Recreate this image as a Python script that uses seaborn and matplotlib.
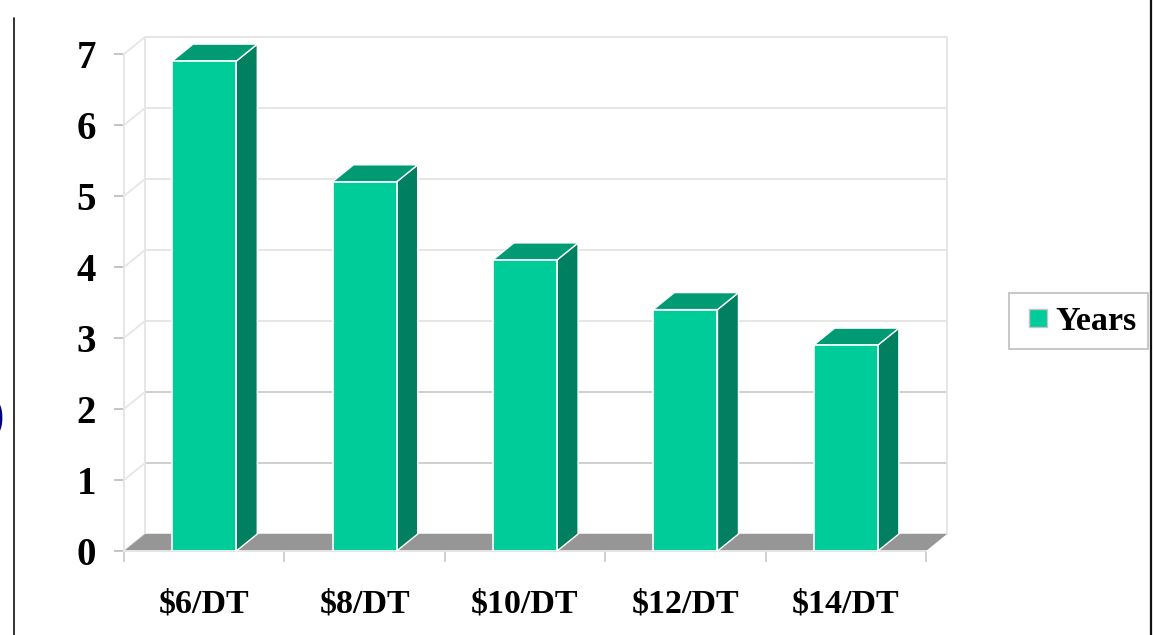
import numpy as np
import pandas as pd
import seaborn as sns
import matplotlib.pyplot as plt
from matplotlib.patches import Polygon

prices = ["$6/DT", "$8/DT", "$10/DT", "$12/DT", "$14/DT"]
years = [6.9, 5.2, 4.1, 3.4, 2.9]
series_name = "Years"

W, H = 1154, 635
FRONT = "#00cc99"
SIDE = "#008060"
TOP = "#009a75"
FLOOR = "#969696"
GRID = "#e6e6e6"

sns.set_theme(style="white")
plt.rcParams["font.family"] = ["Liberation Serif", "DejaVu Serif"]
plt.rcParams["font.weight"] = "bold"

fig = plt.figure(figsize=(W / 100, H / 100), dpi=100)
# front plane of the fake 3d box, in pixels
left, right, bottom, top = 124, 926, 551, 54
ax = fig.add_axes([left / W, 1 - bottom / H, (right - left) / W, (bottom - top) / H])

df = pd.DataFrame({"price": prices, "years": years})
sns.barplot(data=df, x="price", y="years", color=FRONT, saturation=1, width=0.4,
            edgecolor="white", linewidth=1.2, zorder=5, ax=ax)
ax.set_xlim(-0.5, 4.5)
ax.set_ylim(0, 7)

# depth of the box, 21px right and 17px up
dx = 21 / ((right - left) / 5)
dy = 17 / ((bottom - top) / 7)

# walls, the lower lines are a bit darker in the original
for v in range(8):
    c = "#cfcfcf" if v in (1, 2) else GRID
    ax.plot([-0.5 + dx, 4.5 + dx], [v + dy, v + dy], color=c, lw=1.4, clip_on=False, zorder=1)
    ax.plot([-0.5, -0.5 + dx], [v, v + dy], color=GRID, lw=1.3, clip_on=False, zorder=1)
ax.plot([-0.5 + dx] * 2, [dy, 7 + dy], color=GRID, lw=1.4, clip_on=False, zorder=1)
ax.plot([4.5 + dx] * 2, [dy, 7 + dy], color=GRID, lw=1.4, clip_on=False, zorder=1)
ax.add_patch(Polygon([(-0.5, 0), (-0.5 + dx, dy), (4.5 + dx, dy), (4.5, 0)],
                     facecolor=FLOOR, edgecolor="none", clip_on=False, zorder=2))

# side and top of each bar, taken from the bars seaborn drew
for bar in ax.containers[0]:
    x0, x1, h = bar.get_x(), bar.get_x() + bar.get_width(), bar.get_height()
    ax.add_patch(Polygon([(x1, 0), (x1 + dx, dy), (x1 + dx, h + dy), (x1, h)],
                         facecolor=SIDE, edgecolor="white", lw=1, clip_on=False, zorder=4))
    ax.add_patch(Polygon([(x0, h), (x0 + dx, h + dy), (x1 + dx, h + dy), (x1, h)],
                         facecolor=TOP, edgecolor="white", lw=1, clip_on=False, zorder=4))

sns.despine(ax=ax, top=True, right=True)
for s in ["left", "bottom"]:
    ax.spines[s].set_color(GRID)
    ax.spines[s].set_linewidth(1.4)

ax.set_xlabel("")
ax.set_ylabel("")
ax.set_yticks(range(8))
ax.tick_params(axis="y", length=7, width=1.4, color="#c4c4c4", pad=13, labelsize=28, left=True)
ax.set_xticks(range(len(prices)))
ax.set_xticklabels(prices)
ax.set_xticks(np.arange(-0.5, 5), minor=True)
ax.tick_params(axis="x", which="major", length=0, pad=27, labelsize=24.5)
ax.tick_params(axis="x", which="minor", length=8, width=1.4, color="#d0d0d0", bottom=True)
for t in ax.get_xticklabels() + ax.get_yticklabels():
    t.set_fontweight("bold")
    t.set_color("black")

handle = plt.Line2D([], [], linestyle="none", marker="s", markersize=13, markerfacecolor=FRONT,
                    markeredgecolor="#c4c4c4", markeredgewidth=1, label=series_name)
leg = fig.legend(handles=[handle], loc="center", bbox_to_anchor=(1078.5 / W, 1 - 321 / H), fontsize=24.5,
                 labelcolor="black", fancybox=False, framealpha=1, edgecolor="#c8c8c8",
                 handlelength=1.0, handletextpad=0, borderpad=0.36, borderaxespad=0)
leg.get_frame().set_linewidth(1.4)

# slide borders and the cut off bracket on the left edge
fig.add_artist(plt.Line2D([13.5 / W] * 2, [0, 1 - 18 / H], color="#222222", lw=1.3))
fig.add_artist(plt.Line2D([1150.5 / W] * 2, [0, 1], color="#111111", lw=1.6))
fig.text(-13 / W, 1 - 418 / H, ")", color="#000080", fontsize=36, ha="left", va="center", fontweight="bold")

fig.savefig("out.png", dpi=100)
